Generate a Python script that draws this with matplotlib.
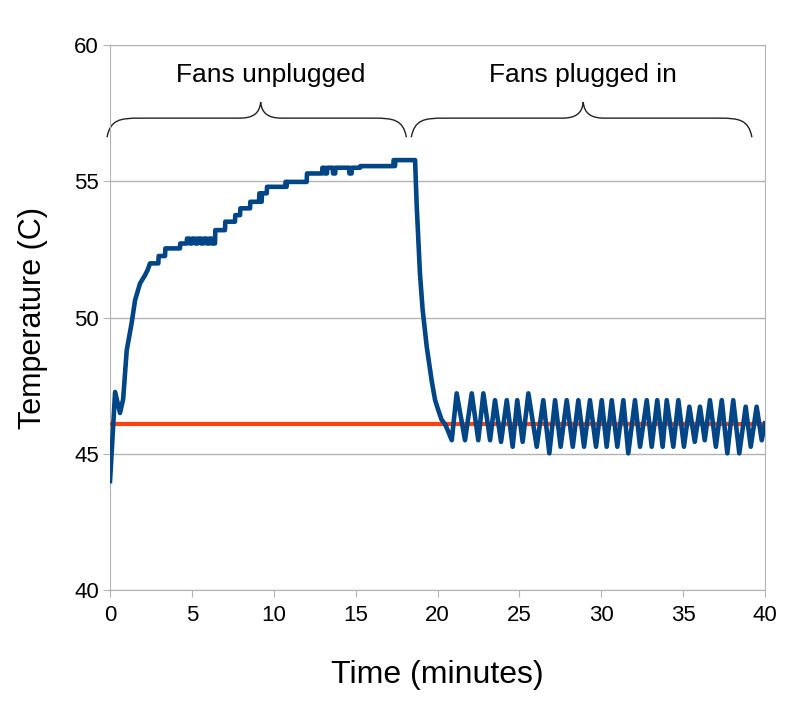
import matplotlib
matplotlib.use('Agg')
import matplotlib.pyplot as plt
from matplotlib.path import Path
from matplotlib.patches import PathPatch
from matplotlib import font_manager

# pick a narrow sans if it is there
names = {f.name for f in font_manager.fontManager.ttflist}
if 'Liberation Sans Narrow' in names:
    label_font = 'Liberation Sans Narrow'
else:
    label_font = 'Liberation Sans'
plt.rcParams['font.family'] = ['Liberation Sans', 'DejaVu Sans']

# heating up with the fans unplugged
rise_time = [0.00, 0.31, 0.61, 0.80, 1.02, 1.32, 1.53, 1.83, 2.14, 2.30, 2.44, 2.95,
             2.97, 3.36, 3.38, 4.27, 4.29, 4.68, 4.70, 4.85, 4.87, 5.00, 5.02, 5.20,
             5.22, 5.35, 5.37, 5.55, 5.57, 5.70, 5.72, 5.90, 5.92, 6.05, 6.07, 6.20,
             6.22, 6.41, 6.43, 7.02, 7.04, 7.63, 7.65, 7.94, 7.96, 8.55, 8.57, 9.10,
             9.12, 9.18, 9.20, 9.26, 9.28, 9.57, 9.59, 10.70, 10.72, 10.76, 10.78,
             10.81, 12.01, 12.03, 12.95, 12.97, 13.10, 13.12, 13.25, 13.27, 13.60,
             13.62, 13.75, 13.77, 14.60, 14.62, 14.75, 14.77, 15.27, 15.29, 17.30,
             17.32, 17.38, 17.40, 17.42, 18.63]
rise_temp = [44.00, 47.27, 46.50, 47.00, 48.80, 49.80, 50.64, 51.25, 51.56, 51.75, 51.99, 51.99,
             52.26, 52.26, 52.54, 52.54, 52.72, 52.72, 52.90, 52.90, 52.72, 52.72, 52.90, 52.90,
             52.72, 52.72, 52.90, 52.90, 52.72, 52.72, 52.90, 52.90, 52.72, 52.72, 52.90, 52.90,
             52.72, 52.72, 53.21, 53.21, 53.52, 53.52, 53.76, 53.76, 54.01, 54.01, 54.25, 54.25,
             54.56, 54.56, 54.25, 54.25, 54.56, 54.56, 54.80, 54.80, 54.98, 54.98, 54.80,
             54.98, 54.98, 55.29, 55.29, 55.50, 55.50, 55.29, 55.29, 55.50, 55.50,
             55.29, 55.29, 55.50, 55.50, 55.29, 55.29, 55.50, 55.50, 55.56, 55.56,
             55.78, 55.78, 55.56, 55.78, 55.78]

# cool down once the fans are plugged in
drop_time = [18.73, 18.93, 19.09, 19.34, 19.64, 19.85, 20.05, 20.25, 20.45, 20.60]
drop_temp = [54.10, 51.60, 50.30, 48.94, 47.70, 46.98, 46.60, 46.25, 46.10, 45.90]

# fan on/off cycling: troughs and peaks in turn
cycle_time = [20.87, 21.17, 21.68, 22.09, 22.49, 22.80, 23.21, 23.51, 23.88, 24.23,
              24.59, 24.87, 25.20, 25.55, 26.06, 26.46, 26.83, 27.18, 27.52, 27.89,
              28.26, 28.60, 28.95, 29.31, 29.68, 30.03, 30.33, 30.64, 30.98, 31.35,
              31.65, 32.06, 32.37, 32.78, 33.08, 33.42, 33.75, 34.00, 34.40, 34.71,
              35.05, 35.38, 35.71, 36.03, 36.32, 36.64, 37.00, 37.36, 37.70, 38.06,
              38.43, 38.82, 39.13, 39.49, 39.80, 40.00]
cycle_temp = [45.50, 47.22, 45.50, 47.22, 45.50, 47.22, 45.50, 46.97, 45.44, 46.97,
              45.26, 46.97, 45.44, 47.22, 45.26, 46.97, 45.02, 46.97, 45.26, 46.97,
              45.26, 46.97, 45.26, 46.97, 45.26, 46.97, 45.26, 46.97, 45.26, 46.97,
              45.02, 46.97, 45.26, 46.97, 45.26, 46.97, 45.26, 46.97, 45.26, 46.97,
              45.26, 46.73, 45.44, 46.73, 45.50, 46.97, 45.26, 46.97, 45.02, 46.97,
              45.02, 46.73, 45.26, 46.73, 45.50, 46.12]

target_temp = 46.1

time = rise_time + drop_time + cycle_time
temp = rise_temp + drop_temp + cycle_temp

fig = plt.figure(figsize=(8.09, 7.05), dpi=100)
ax = fig.add_axes([0.136, 0.163, 0.8096, 0.773])

ax.plot([0, 40], [target_temp, target_temp], color='#ff420e', lw=3.0, solid_capstyle='butt', zorder=3)
ax.plot(time, temp, color='#004586', lw=3.3, solid_joinstyle='round', zorder=4)

ax.set_xlim(0, 40)
ax.set_ylim(40, 60)
ax.set_xticks(range(0, 41, 5))
ax.set_yticks(range(40, 61, 5))
ax.grid(axis='y', color='#b3b3b3', lw=1)
ax.set_axisbelow(True)
for s in ax.spines.values():
    s.set_color('#b3b3b3')
ax.tick_params(colors='#b3b3b3', labelcolor='black', labelsize=16, length=5, direction='out')
ax.tick_params(axis='x', pad=6)
ax.tick_params(axis='y', pad=3)

ax.set_xlabel('Time (minutes)', fontsize=23, family=[label_font, 'DejaVu Sans'], labelpad=24)
ax.set_ylabel('Temperature (C)', fontsize=22, family=[label_font, 'DejaVu Sans'], labelpad=19)


def brace(x0, x1, xc, tip, bar, peak):
    r = 2.0
    rc = 1.3
    verts = [(x0, tip), (x0 + 0.1 * r, bar - 0.05), (x0 + 0.4 * r, bar), (x0 + r, bar),
             (xc - rc, bar),
             (xc - 0.4 * rc, bar), (xc - 0.05 * rc, bar + 0.25 * (peak - bar)), (xc, peak),
             (xc + 0.05 * rc, bar + 0.25 * (peak - bar)), (xc + 0.4 * rc, bar), (xc + rc, bar),
             (x1 - r, bar),
             (x1 - 0.4 * r, bar), (x1 - 0.1 * r, bar - 0.05), (x1, tip)]
    codes = [Path.MOVETO, Path.CURVE4, Path.CURVE4, Path.CURVE4,
             Path.LINETO,
             Path.CURVE4, Path.CURVE4, Path.CURVE4,
             Path.CURVE4, Path.CURVE4, Path.CURVE4,
             Path.LINETO,
             Path.CURVE4, Path.CURVE4, Path.CURVE4]
    ax.add_patch(PathPatch(Path(verts, codes), fill=False, color='#222222', lw=1.0, clip_on=False))


brace(-0.18, 18.1, 9.2, 56.62, 57.32, 57.91)
brace(18.4, 39.2, 28.9, 56.62, 57.32, 57.91)

ax.text(9.8, 58.64, 'Fans unplugged', ha='center', va='baseline', fontsize=19,
        family=[label_font, 'DejaVu Sans'])
ax.text(28.9, 58.64, 'Fans plugged in', ha='center', va='baseline', fontsize=19,
        family=[label_font, 'DejaVu Sans'])

fig.savefig('out.png', dpi=100)
